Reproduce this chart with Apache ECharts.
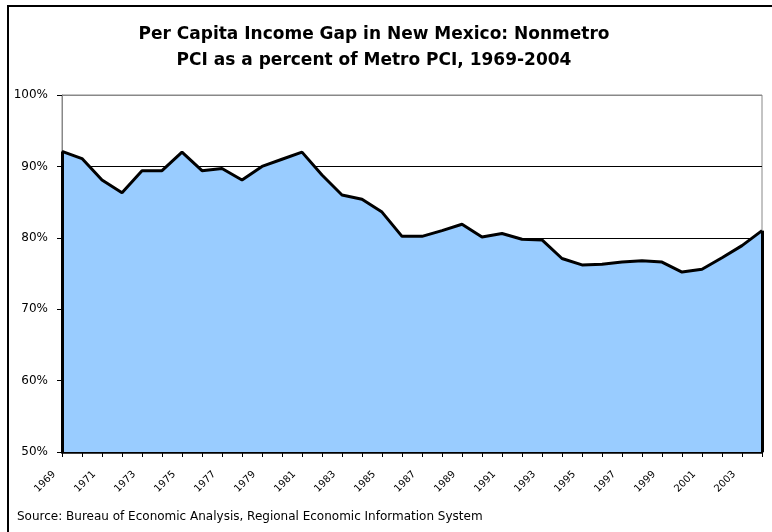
<!DOCTYPE html>
<html>
<head>
<meta charset="utf-8">
<script src="https://cdn.jsdelivr.net/npm/echarts@6/dist/echarts.min.js"></script>
<style>
  html, body { margin: 0; padding: 0; background: #fff; }
  #chart { width: 772px; height: 532px; }
</style>
</head>
<body>
<div id="chart"></div>
<script>
// Nonmetro per capita income as a percent of metro PCI, New Mexico
const years = [
  '1969','1970','1971','1972','1973','1974','1975','1976','1977','1978',
  '1979','1980','1981','1982','1983','1984','1985','1986','1987','1988',
  '1989','1990','1991','1992','1993','1994','1995','1996','1997','1998',
  '1999','2000','2001','2002','2003','2004'
];
const pciGap = [
  92.1, 91.1, 88.1, 86.3, 89.4, 89.4, 92.0, 89.4, 89.7, 88.1,
  90.0, 91.0, 92.0, 88.8, 86.0, 85.4, 83.6, 80.2, 80.2, 81.0,
  81.9, 80.1, 80.6, 79.8, 79.7, 77.1, 76.2, 76.3, 76.6, 76.8,
  76.6, 75.2, 75.6, 77.2, 78.9, 81.0
];
const yTicks = { min: 50, max: 100, step: 10 };
const titleLines = [
  'Per Capita Income Gap in New Mexico: Nonmetro',
  'PCI as a percent of Metro PCI, 1969-2004'
];
const sourceNote = 'Source: Bureau of Economic Analysis, Regional Economic Information System';

const font = 'DejaVu Sans, Verdana, sans-serif';
const chart = echarts.init(document.getElementById('chart'), null, { renderer: 'canvas' });

const first = years[0], last = years[years.length - 1];

chart.setOption({
  animation: false,
  backgroundColor: '#fff',
  title: {
    text: titleLines.join('\n'),
    left: 369,
    textAlign: 'center',
    top: 17,
    textStyle: { fontFamily: font, fontSize: 17, fontWeight: 'bold', color: '#000', lineHeight: 26 }
  },
  graphic: [
    {
      type: 'polyline',
      shape: { points: [[8, 540], [8, 6], [780, 6]] },
      style: { stroke: '#000', lineWidth: 2, fill: null },
      silent: true
    },
    {
      type: 'text',
      left: 17,
      top: 511,
      style: { text: sourceNote, fontFamily: font, fontSize: 12, fill: '#000' }
    }
  ],
  grid: {
    left: 62, right: 10, top: 95, bottom: 80,
    show: true, borderColor: '#888', borderWidth: 1, backgroundColor: 'transparent'
  },
  xAxis: {
    type: 'category',
    data: years,
    boundaryGap: false,
    axisLine: { lineStyle: { color: '#000', width: 2.5 } },
    axisTick: { show: true, interval: 0, length: 5, lineStyle: { color: '#000', width: 1 } },
    axisLabel: {
      interval: 1, rotate: 45, margin: 13, padding: [0, 11, 0, 0],
      fontFamily: font, fontSize: 10, color: '#000'
    },
    splitLine: { show: false }
  },
  yAxis: {
    type: 'value',
    min: yTicks.min, max: yTicks.max, interval: yTicks.step,
    axisLine: { show: true, lineStyle: { color: '#888', width: 1 } },
    axisTick: { show: true, length: 5, lineStyle: { color: '#000' } },
    axisLabel: {
      margin: 14, fontFamily: font, fontSize: 12, color: '#000',
      formatter: v => v + '%'
    },
    splitLine: {
      show: true,
      lineStyle: { color: ['#000', '#000', '#000', '#000', '#000', '#888'], width: 1 }
    }
  },
  series: [
    {
      type: 'line',
      data: pciGap,
      symbol: 'none',
      lineStyle: { color: '#000', width: 3 },
      areaStyle: { color: '#99CCFF', opacity: 1, origin: 'start' },
      z: 3,
      markLine: {
        silent: true,
        symbol: 'none',
        label: { show: false },
        lineStyle: { color: '#000', width: 3, type: 'solid' },
        data: [
          [{ coord: [first, yTicks.min] }, { coord: [first, pciGap[0]] }],
          [{ coord: [last, yTicks.min] }, { coord: [last, pciGap[pciGap.length - 1]] }]
        ]
      }
    }
  ]
});
</script>
</body>
</html>
